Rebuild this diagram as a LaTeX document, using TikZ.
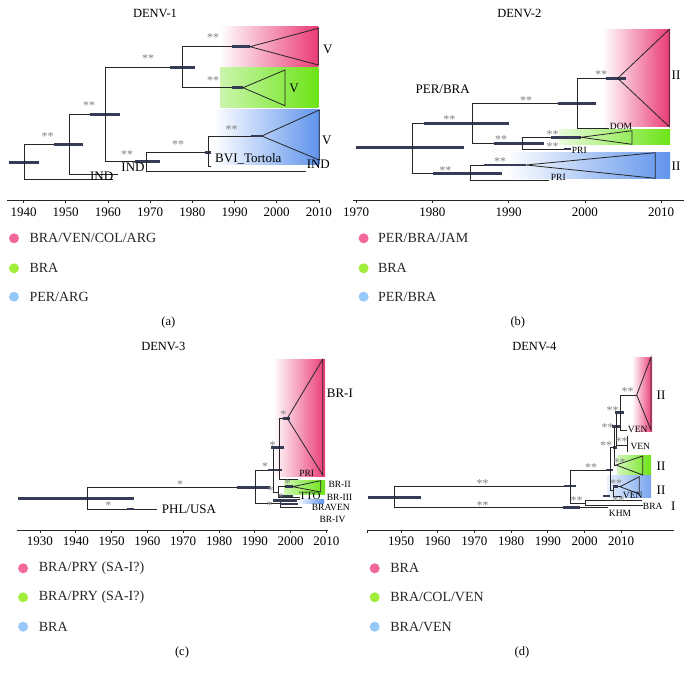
\documentclass[tikz,border=0pt]{standalone}
\usepackage{fontspec}
\setmainfont{Liberation Serif}
\definecolor{pinkc}{RGB}{234,58,118}
\definecolor{greenc}{RGB}{108,228,22}
\definecolor{bluec}{RGB}{96,148,236}
\definecolor{pinkL}{RGB}{242,104,156}
\definecolor{greenL}{RGB}{162,236,58}
\definecolor{blueL}{RGB}{150,200,250}
\definecolor{barc}{RGB}{55,60,86}
\definecolor{astc}{RGB}{128,128,128}
\begin{document}
\begin{tikzpicture}[x=1pt,y=-1pt,
  br/.style={line width=0.8pt,draw=black!85},
  hpd/.style={line width=2.8pt,draw=barc},
  supp/.style={text=astc,inner sep=0pt,yshift=-2pt,font=\fontsize{12}{12}\selectfont},
  biglab/.style={inner sep=0pt,font=\fontsize{13}{13}\selectfont},
  tiplab/.style={inner sep=0pt,font=\fontsize{9.5}{9.5}\selectfont},
  yr/.style={inner sep=0pt,font=\fontsize{13}{13}\selectfont},
  ttl/.style={inner sep=0pt,font=\fontsize{12.5}{12.5}\selectfont},
  leg/.style={anchor=west,inner sep=0pt,text=black!85,font=\fontsize{14}{14}\selectfont},
  legdot/.style={circle,inner sep=0pt,minimum size=10pt}]
  \useasboundingbox (0,0) rectangle (693,679);

  % ---------------- (a) DENV-1
  \shade[left color=white,right color=pinkc] (220,26.7) rectangle (318.3,66.7);
  \shade[left color=greenc!35,right color=greenc] (220,68) rectangle (318.3,108);
  \shade[left color=white,right color=bluec] (213,110) rectangle (319.3,165);

  \draw[hpd] (9.3,162.3) -- (39.3,162.3);
  \draw[br] (24.3,144.3) -- (24.3,179.3) -- (113,179.3);
  \draw[br] (24.3,144.3) -- (69.3,144.3);
  \draw[hpd] (54.3,144.3) -- (83.3,144.3);
  \draw[br] (118.3,174.3) -- (69.3,174.3) -- (69.3,114.3) -- (105.7,114.3);
  \draw[hpd] (90,114.3) -- (120,114.3);
  \draw[br] (105.7,161.7) -- (105.7,67.7) -- (182.7,67.7);
  \draw[hpd] (170,67.7) -- (195,67.7);
  \draw[br] (250,46.7) -- (182.7,46.7) -- (182.7,87.7) -- (243,87.7);
  \draw[hpd] (232,46.7) -- (250,46.7);
  \draw[hpd] (232,87.7) -- (243,87.7);
  \draw[br] (250,46.7) -- (318.3,28.3) -- (318.3,65) -- cycle;
  \draw[br] (243,87.7) -- (285,70) -- (285,105.7) -- cycle;
  \draw[br] (105.7,161.7) -- (146.7,161.7);
  \draw[hpd] (135,161.7) -- (160,161.7);
  \draw[br] (208.3,152.3) -- (146.7,152.3) -- (146.7,171) -- (306,171);
  \draw[hpd] (205,152.3) -- (211,152.3);
  \draw[br] (211,166.7) -- (208.3,166.7) -- (208.3,136) -- (261.7,136);
  \draw[hpd] (250.7,136) -- (261.7,136);
  \draw[br] (261.7,136) -- (319.3,110) -- (319.3,160) -- cycle;

  \foreach \x/\y [count=\i] in {47.7/135,89/104,148/57,213/36,213/79,127/153,178/143,231.7/127.7}
    \node[supp] (sa\i) at (\x,\y) {**};
  \node[biglab] (va1) at (327.7,49) {V};
  \node[biglab] (va2) at (294,88.3) {V};
  \node[biglab] (va3) at (326.7,140) {V};
  \node[biglab] (inda1) at (101.7,176.7) {IND};
  \node[biglab] (inda2) at (133,167) {IND};
  \node[biglab] (inda3) at (318.3,164) {IND};
  \node[biglab,anchor=west] (bvi) at (215,159.3) {BVI\_Tortola};
  \node[ttl] (ta) at (155,13) {DENV-1};

  \draw[br] (7,200) -- (320,200);
  \foreach \yr [evaluate=\yr as \xx using 23.5+4.22*(\yr-1940),count=\i] in {1940,1950,...,2010} {
    \draw[br] (\xx,200) -- (\xx,203);
    \node[yr] (ya\i) at (\xx,212) {\yr};
  }

  \node[legdot,fill=pinkL] (da1) at (14,238.3) {};
  \node[legdot,fill=greenL] (da2) at (14,268.3) {};
  \node[legdot,fill=blueL] (da3) at (14,296.7) {};
  \node[leg] (la1) at (29.3,238.3) {BRA/VEN/COL/ARG};
  \node[leg] (la2) at (29.3,268.3) {BRA};
  \node[leg] (la3) at (29.3,296.7) {PER/ARG};
  \node[ttl] (capa) at (168.3,322.7) {(a)};

  % ---------------- (b) DENV-2
  \shade[left color=white,right color=pinkc] (602.7,29.3) rectangle (670,126.7);
  \shade[left color=greenc!15,right color=greenc] (559,130) rectangle (670,145);
  \shade[left color=white,right color=bluec] (506,152.3) rectangle (670,179);

  \draw[hpd] (356,147.7) -- (463.7,147.7);
  \draw[br] (472.7,123.3) -- (412.7,123.3) -- (412.7,173.3) -- (470.3,173.3);
  \draw[hpd] (424.3,123.3) -- (509.3,123.3);
  \draw[br] (577.7,103.3) -- (472.7,103.3) -- (472.7,143.3) -- (522.7,143.3);
  \draw[hpd] (557.7,103.3) -- (596,103.3);
  \draw[hpd] (494.3,143.3) -- (544.3,143.3);
  \draw[br] (617.7,78.3) -- (577.7,78.3) -- (577.7,128.3) -- (609.3,128.3);
  \draw[hpd] (606,78.3) -- (626,78.3);
  \draw[br] (617.7,78.3) -- (669.3,29.3) -- (669.3,126.7) -- cycle;
  \draw[br] (581,137.3) -- (522.7,137.3) -- (522.7,149) -- (571,149);
  \draw[hpd] (551,137.3) -- (581,137.3);
  \draw[hpd] (564,149) -- (571,149);
  \draw[br] (581,137.3) -- (632,130.7) -- (632,144.3) -- cycle;
  \draw[hpd] (433.3,173.3) -- (502,173.3);
  \draw[br] (526,165) -- (470.3,165) -- (470.3,180) -- (549.3,180);
  \draw[hpd] (484.3,165) -- (526,165);
  \draw[br] (526,165) -- (655.3,152.7) -- (655.3,178.3) -- cycle;

  \foreach \x/\y [count=\i] in {449.3/117.3,526/99,601/72.7,501/137.7,552.7/132.7,552.7/145,445.3/168.3,500/160}
    \node[supp] (sb\i) at (\x,\y) {**};
  \node[biglab] (perbra) at (442.7,89) {PER/BRA};
  \node[biglab] (iib1) at (676,75) {II};
  \node[biglab] (iib2) at (676,166.7) {II};
  \node[tiplab] (dom) at (621,126.7) {DOM};
  \node[tiplab] (prib1) at (579.3,150) {PRI};
  \node[tiplab] (prib2) at (558.3,177.7) {PRI};
  \node[ttl] (tb) at (519.3,13.3) {DENV-2};

  \draw[br] (352.7,200) -- (684.3,200);
  \foreach \yr [evaluate=\yr as \xx using 356+7.63*(\yr-1970),count=\i] in {1970,1980,...,2010} {
    \draw[br] (\xx,200) -- (\xx,203);
    \node[yr] (yb\i) at (\xx,212) {\yr};
  }

  \node[legdot,fill=pinkL] (db1) at (363.6,238.3) {};
  \node[legdot,fill=greenL] (db2) at (363.6,268.3) {};
  \node[legdot,fill=blueL] (db3) at (363.6,296.7) {};
  \node[leg] (lb1) at (377.8,238.3) {PER/BRA/JAM};
  \node[leg] (lb2) at (377.8,268.3) {BRA};
  \node[leg] (lb3) at (377.8,296.7) {PER/BRA};
  \node[ttl] (capb) at (517.8,322.7) {(b)};

  % ---------------- (c) DENV-3
  \shade[left color=white,right color=pinkc] (273.3,359.3) rectangle (325,476.7);
  \shade[left color=greenc!35,right color=greenc] (284.3,480) rectangle (325,494);
  \shade[left color=white,right color=bluec] (296.7,499.5) rectangle (324,503);

  \draw[hpd] (18.3,498.3) -- (134.3,498.3);
  \draw[br] (255,487.3) -- (87.3,487.3) -- (87.3,509) -- (156.7,509);
  \draw[hpd] (126.7,509) -- (134.3,509);
  \draw[hpd] (237.3,487.3) -- (270,487.3);
  \draw[br] (273.3,470) -- (255,470) -- (255,503.3) -- (280,503.3);
  \draw[hpd] (267.7,470) -- (282.3,470);
  \draw[br] (279.3,447.7) -- (273.3,447.7) -- (273.3,492) -- (278,492);
  \draw[hpd] (270.7,447.7) -- (284,447.7);
  \draw[br] (287.3,418.3) -- (279.3,418.3) -- (279.3,479.3) -- (298.3,479.3);
  \draw[hpd] (282.7,418.3) -- (290,418.3);
  \draw[br] (287.3,418.3) -- (322.7,359.3) -- (322.7,475) -- cycle;
  \draw[br] (292.7,486.7) -- (278,486.7) -- (278,497) -- (300,497);
  \draw[hpd] (285,486.7) -- (293.3,486.7);
  \draw[br] (292.7,486.7) -- (320.7,480.7) -- (320.7,492) -- cycle;
  \draw[br] (300,499.5) -- (280,499.5) -- (280,507) -- (302,507);
  \draw[hpd] (278,496) -- (293,496);
  \draw[hpd] (273,500.5) -- (297,500.5);
  \draw[hpd] (280,504) -- (298,504);

  \foreach \x/\y [count=\i] in {108.3/504,180/482.7,265/465,272.7/443.3,283.3/412.7,287.7/482,270.5/488.5,281/495.5,269.5/504}
    \node[supp] (sc\i) at (\x,\y) {*};
  \node[biglab,anchor=west] (phl) at (161.7,509) {PHL/USA};
  \node[biglab,anchor=west] (bri) at (326.7,393.3) {BR-I};
  \node[tiplab] (pric) at (306.7,473.3) {PRI};
  \node[tiplab,font=\fontsize{11}{11}\selectfont] (tto) at (310,496) {TTO};
  \node[tiplab,anchor=west] (brii) at (328.3,484) {BR-II};
  \node[tiplab,anchor=west] (briii) at (326.7,497.3) {BR-III};
  \node[tiplab,anchor=west] (braven) at (311.7,507.3) {BRAVEN};
  \node[tiplab,anchor=west] (briv) at (319.3,519.3) {BR-IV};
  \node[ttl] (tc) at (163.3,346.7) {DENV-3};

  \draw[br] (16.7,530) -- (328.3,530);
  \foreach \yr [evaluate=\yr as \xx using 40+3.58*(\yr-1930),count=\i] in {1930,1940,...,2010} {
    \draw[br] (\xx,530) -- (\xx,533);
    \node[yr] (yc\i) at (\xx,541) {\yr};
  }

  \node[legdot,fill=pinkL] (dc1) at (23.1,568.3) {};
  \node[legdot,fill=greenL] (dc2) at (23.1,597.3) {};
  \node[legdot,fill=blueL] (dc3) at (23.1,626.7) {};
  \node[leg] (lc1) at (38.7,568.3) {BRA/PRY (SA-I?)};
  \node[leg] (lc2) at (38.7,597.3) {BRA/PRY (SA-I?)};
  \node[leg] (lc3) at (38.7,626.7) {BRA};
  \node[ttl] (capc) at (182,652.7) {(c)};

  % ---------------- (d) DENV-4
  \shade[left color=white,right color=pinkc] (632,357.3) rectangle (652,431.7);
  \shade[left color=greenc!30,right color=greenc] (617.7,455) rectangle (651,475.7);
  \shade[left color=bluec!15,right color=bluec!85] (607.7,475.7) rectangle (651,497.3);

  \draw[hpd] (367.7,497.3) -- (421,497.3);
  \draw[br] (570.3,486) -- (394.3,486) -- (394.3,507.7) -- (607.7,507.7);
  \draw[hpd] (564.3,486) -- (576,486);
  \draw[hpd] (562.7,507.7) -- (580,507.7);
  \draw[br] (610.3,470) -- (570.3,470) -- (570.3,503.3) -- (585,503.3);
  \draw[br] (641.7,500) -- (585,500) -- (585,505) -- (643.3,505);
  \draw[hpd] (606,470) -- (612.7,470);
  \draw[br] (614.3,447.3) -- (610.3,447.3) -- (610.3,490) -- (613.3,490);
  \draw[hpd] (612.7,447.3) -- (616.7,447.3);
  \draw[br] (616,426.7) -- (614.3,426.7) -- (614.3,465) -- (616,465);
  \draw[hpd] (612,426.7) -- (620,426.7);
  \draw[br] (620,412.7) -- (616,412.7) -- (616,445) -- (627,445);
  \draw[hpd] (615,412.7) -- (624,412.7);
  \draw[br] (636.7,395) -- (620,395) -- (620,430) -- (626.7,430);
  \draw[br] (636.7,395) -- (651,357.3) -- (651,430) -- cycle;
  \draw[br] (627,436) -- (627,451.7);
  \draw[br] (616,465) -- (642.7,456) -- (642.7,475) -- cycle;
  \draw[br] (620,486.7) -- (613.3,486.7) -- (613.3,496) -- (622,496);
  \draw[hpd] (612.7,486.7) -- (617.7,486.7);
  \draw[hpd] (603,496) -- (610,496);
  \draw[br] (620,486.7) -- (639.3,476.7) -- (639.3,494) -- cycle;

  \foreach \x/\y [count=\i] in {482.7/481.7,482.7/503.3,591/466,606/443.3,607.7/425.7,612.7/409,627.7/389.3,621.7/439.3,619.3/460.7,616/481.7,576.7/498.3,618.3/498.3}
    \node[supp] (sd\i) at (\x,\y) {**};
  \node[biglab] (iid1) at (661,395) {II};
  \node[biglab] (iid2) at (661,466.7) {II};
  \node[biglab] (iid3) at (661,490) {II};
  \node[biglab] (id) at (673.3,506) {I};
  \node[tiplab] (ven1) at (637.7,429.3) {VEN};
  \node[tiplab] (ven2) at (640.3,446) {VEN};
  \node[tiplab] (ven3) at (632.7,495) {VEN};
  \node[tiplab] (brad) at (652.7,506.7) {BRA};
  \node[tiplab] (khm) at (620,513.3) {KHM};
  \node[ttl] (td) at (534.3,346.7) {DENV-4};

  \draw[br] (367.7,530) -- (674.3,530);
  \draw[br] (367.7,530) -- (367.7,533);
  \foreach \yr [evaluate=\yr as \xx using 401+3.67*(\yr-1950),count=\i] in {1950,1960,...,2010} {
    \draw[br] (\xx,530) -- (\xx,533);
    \node[yr] (yd\i) at (\xx,541) {\yr};
  }

  \node[legdot,fill=pinkL] (dd1) at (374.7,568.3) {};
  \node[legdot,fill=greenL] (dd2) at (374.7,597.3) {};
  \node[legdot,fill=blueL] (dd3) at (374.7,626.7) {};
  \node[leg] (ld1) at (390.2,568.3) {BRA};
  \node[leg] (ld2) at (390.2,597.3) {BRA/COL/VEN};
  \node[leg] (ld3) at (390.2,626.7) {BRA/VEN};
  \node[ttl] (capd) at (522,652.7) {(d)};
\end{tikzpicture}
\end{document}
